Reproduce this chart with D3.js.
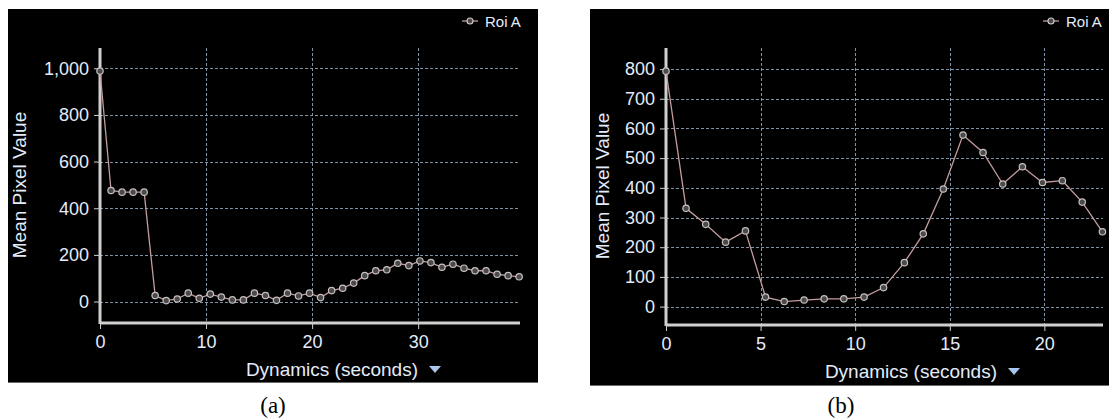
<!DOCTYPE html>
<html>
<head>
<meta charset="utf-8">
<script src="https://cdn.jsdelivr.net/npm/d3@7"></script>
<style>
  html, body { margin: 0; padding: 0; background: #ffffff; }
  svg { display: block; }
</style>
</head>
<body>
<svg id="chart" width="1109" height="419"></svg>
<script>
// ---------- data ----------
const seriesName = "Roi A";
const xTitle = "Dynamics (seconds)";
const yTitle = "Mean Pixel Value";

// panel (a)
const timesA = [0, 1.04, 2.08, 3.12, 4.16, 5.2, 6.24, 7.28, 8.32, 9.36, 10.4, 11.44, 12.48,
  13.52, 14.56, 15.6, 16.64, 17.68, 18.72, 19.76, 20.8, 21.84, 22.88, 23.92, 24.96, 26.0,
  27.04, 28.08, 29.12, 30.16, 31.2, 32.24, 33.28, 34.32, 35.36, 36.4, 37.44, 38.48, 39.52];
const valuesA = [988, 476, 469, 469, 469, 26, 4, 11, 36, 14, 32, 19, 7,
  7, 36, 26, 5, 36, 24, 36, 17, 47, 57, 79, 111, 132,
  136, 164, 154, 174, 167, 147, 160, 143, 132, 132, 117, 111, 106];
const xTicksA = [0, 10, 20, 30];
const yTicksA = [0, 200, 400, 600, 800, 1000];

// panel (b)
const timesB = [0, 1.06, 2.1, 3.15, 4.2, 5.26, 6.25, 7.3, 8.36, 9.4, 10.47, 11.5,
  12.6, 13.6, 14.66, 15.7, 16.76, 17.8, 18.84, 19.9, 20.95, 22.0, 23.07];
const valuesB = [793, 331, 277, 217, 255, 32, 17, 22, 26, 26, 32, 64,
  148, 245, 396, 578, 519, 413, 471, 418, 424, 352, 252];
const xTicksB = [0, 5, 10, 15, 20];
const yTicksB = [0, 100, 200, 300, 400, 500, 600, 700, 800];

const captions = ["(a)", "(b)"];

// ---------- drawing ----------
const svg = d3.select("#chart");
const FONT = "'Liberation Sans', Arial, sans-serif";
const TEXT_COL = "#e4ecfb";
const GRID_COL = "#8ea2b8";
const AXIS_COL = "#cfcfcf";
const LINE_COL = "#c49c9c";

function drawPanel(p) {
  const g = svg.append("g");
  g.append("rect").attr("x", p.box[0]).attr("y", p.box[1])
    .attr("width", p.box[2] - p.box[0]).attr("height", p.box[3] - p.box[1])
    .attr("fill", "#000");
  g.append("line").attr("x1", p.box[0]).attr("x2", p.box[2])
    .attr("y1", p.box[3] - 0.5).attr("y2", p.box[3] - 0.5)
    .attr("stroke", "#6a6a6a").attr("stroke-width", 1);

  const x = d3.scaleLinear().domain(p.xDomain).range([p.left, p.right]);
  const y = d3.scaleLinear().domain(p.yDomain).range([p.bottom, p.top]);

  const grid = g.append("g").attr("stroke", GRID_COL).attr("stroke-width", 1)
    .attr("stroke-dasharray", "3,2").attr("opacity", 0.9);
  p.yTicks.forEach(v => {
    grid.append("line").attr("x1", p.left).attr("x2", p.gridRight)
      .attr("y1", Math.round(y(v)) + 0.5).attr("y2", Math.round(y(v)) + 0.5);
  });
  p.xTicks.filter(v => v > 0).forEach(v => {
    grid.append("line").attr("y1", p.top).attr("y2", p.bottom)
      .attr("x1", Math.round(x(v)) + 0.5).attr("x2", Math.round(x(v)) + 0.5);
  });

  const yAxis = d3.axisLeft(y).tickValues(p.yTicks).tickSize(6).tickPadding(4)
    .tickFormat(d3.format(","));
  const xAxis = d3.axisBottom(x).tickValues(p.xTicks).tickSize(6).tickPadding(6)
    .tickFormat(d3.format("d"));

  const ya = g.append("g").attr("transform", `translate(${p.left},0)`).call(yAxis);
  const xa = g.append("g").attr("transform", `translate(0,${p.bottom})`).call(xAxis);
  [ya, xa].forEach(a => {
    a.select(".domain").remove();
    a.selectAll(".tick line").attr("stroke", AXIS_COL).attr("stroke-width", 1);
    a.selectAll(".tick text").attr("fill", TEXT_COL)
      .attr("font-family", FONT).attr("font-size", p.tickFont);
  });
  ya.selectAll(".tick text").attr("x", -11);
  xa.selectAll(".tick text").attr("y", 12);

  g.append("line").attr("x1", p.left).attr("x2", p.left)
    .attr("y1", p.top).attr("y2", p.bottom + 1)
    .attr("stroke", AXIS_COL).attr("stroke-width", 3);
  g.append("line").attr("x1", p.left).attr("x2", p.right)
    .attr("y1", p.bottom).attr("y2", p.bottom)
    .attr("stroke", AXIS_COL).attr("stroke-width", 3);

  const pts = p.times.map((t, i) => [t, p.values[i]]);
  g.append("path").datum(pts)
    .attr("fill", "none").attr("stroke", LINE_COL).attr("stroke-width", 1.3)
    .attr("d", d3.line().x(d => x(d[0])).y(d => y(d[1])));
  g.selectAll("circle.pt").data(pts).enter().append("circle")
    .attr("class", "pt")
    .attr("cx", d => x(d[0])).attr("cy", d => y(d[1])).attr("r", 3.2)
    .attr("fill", "#4a4a4a").attr("stroke", "#c8c0c0").attr("stroke-width", 1.2);

  g.append("text").attr("transform", `translate(${p.yTitleX},${p.yTitleY}) rotate(-90)`)
    .attr("text-anchor", "middle").attr("dominant-baseline", "central")
    .attr("fill", TEXT_COL).attr("font-family", FONT).attr("font-size", p.titleFont)
    .text(yTitle);
  g.append("text").attr("x", p.xTitleEnd).attr("y", p.xTitleY)
    .attr("text-anchor", "end").attr("dominant-baseline", "central")
    .attr("fill", TEXT_COL).attr("font-family", FONT).attr("font-size", p.titleFont)
    .text(xTitle);
  const tx = p.xTitleEnd + 17, ty = p.xTitleY;
  g.append("path")
    .attr("d", `M${tx - 6},${ty - 3}L${tx + 6},${ty - 3}L${tx},${ty + 4}Z`)
    .attr("fill", "#a9c6ee");

  const lx = p.legendX, ly = p.legendY;
  g.append("line").attr("x1", lx).attr("x2", lx + 16).attr("y1", ly).attr("y2", ly)
    .attr("stroke", LINE_COL).attr("stroke-width", 1.3);
  g.append("circle").attr("cx", lx + 8).attr("cy", ly).attr("r", 3)
    .attr("fill", "#4a4a4a").attr("stroke", "#d0c8c8").attr("stroke-width", 1.1);
  g.append("text").attr("x", lx + 23).attr("y", ly).attr("dominant-baseline", "central")
    .attr("fill", TEXT_COL).attr("font-family", FONT).attr("font-size", p.legendFont)
    .text(seriesName);

  svg.append("text").attr("x", p.captionX).attr("y", 413).attr("text-anchor", "middle")
    .attr("fill", "#000").attr("font-family", "'Liberation Serif', 'Times New Roman', serif")
    .attr("font-size", 23).text(p.caption);
}

drawPanel({
  box: [8, 9, 538, 383],
  left: 100, right: 520, gridRight: 519, top: 48, bottom: 323,
  xDomain: [0, 39.6], yDomain: [-92, 1087],
  times: timesA, values: valuesA, xTicks: xTicksA, yTicks: yTicksA,
  tickFont: 18, titleFont: 19, legendFont: 15,
  yTitleX: 19, yTitleY: 185, xTitleEnd: 418, xTitleY: 369,
  legendX: 462, legendY: 21, captionX: 273, caption: captions[0]
});

drawPanel({
  box: [590, 9, 1109, 386],
  left: 666, right: 1103, gridRight: 1103, top: 48, bottom: 325,
  xDomain: [0, 23.1], yDomain: [-62, 871],
  times: timesB, values: valuesB, xTicks: xTicksB, yTicks: yTicksB,
  tickFont: 18, titleFont: 19, legendFont: 15,
  yTitleX: 602, yTitleY: 186, xTitleEnd: 997, xTitleY: 371,
  legendX: 1043, legendY: 21, captionX: 841, caption: captions[1]
});
</script>
</body>
</html>
